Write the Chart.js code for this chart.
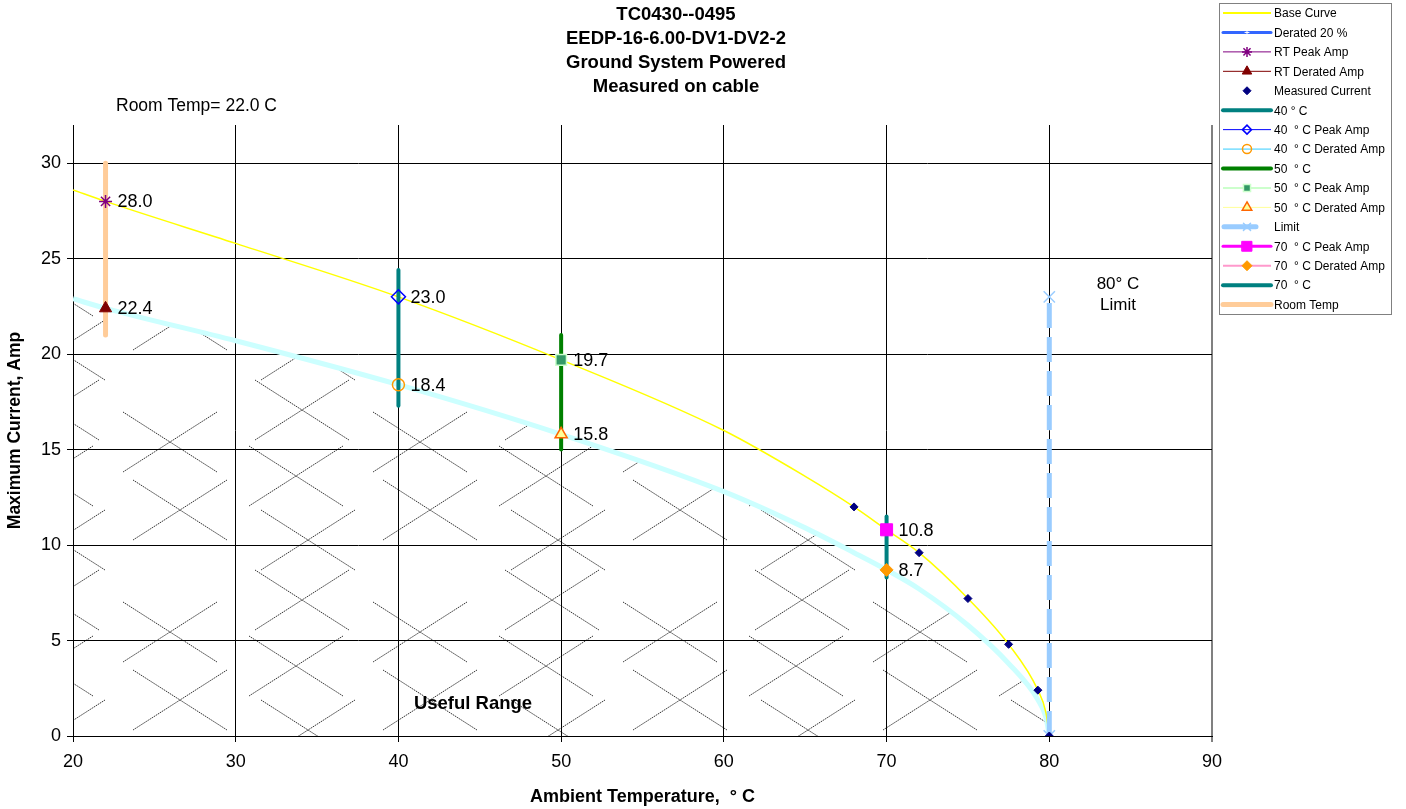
<!DOCTYPE html>
<html lang="en">
<head>
    <meta charset="UTF-8">
    <title>TC0430--0495 Derating</title>
    <script src="https://cdn.jsdelivr.net/npm/chart.js@4.4.0/dist/chart.umd.min.js"></script>
    <style>
        body { margin: 0; background: #ffffff; }
        #wrap { position: relative; width: 1406px; height: 809px; }
    </style>
</head>
<body>
<div id="wrap"><canvas id="deratingChart"></canvas></div>
<script>
    // Values
    const titleLines = ['TC0430--0495', 'EEDP-16-6.00-DV1-DV2-2', 'Ground System Powered', 'Measured on cable'];

    const curveTemps   = [20, 22, 30, 40, 50, 60, 65, 68, 70, 72, 75, 77.5, 79.3, 79.8, 80];
    const baseAmps     = [28.6, 28.0, 25.8, 23.0, 19.7, 16.0, 13.6, 12.0, 10.8, 9.6, 7.2, 4.8, 2.4, 1.2, 0];
    const deratedAmps  = [22.9, 22.4, 20.7, 18.4, 15.8, 12.8, 10.9, 9.6, 8.7, 7.7, 5.8, 3.8, 1.9, 0.95, 0];

    const measuredTemps = [68, 72, 75, 77.5, 79.3, 80];
    const measuredAmps  = [12.0, 9.6, 7.2, 4.8, 2.4, 0];

    const testTemps       = [22, 40, 50, 70];
    const peakAmps        = [28.0, 23.0, 19.7, 10.8];
    const testDeratedAmps = [22.4, 18.4, 15.8, 8.7];

    // vertical range bars: Room Temp, 40, 50, 70
    const barLow  = [21.0, 17.3, 15.0, 8.3];
    const barHigh = [30.0, 24.4, 21.0, 11.5];

    const limitTemp = 80;
    const limitAmps = [0, 23];

    const xTicks = [20, 30, 40, 50, 60, 70, 80, 90];
    const yTicks = [0, 5, 10, 15, 20, 25, 30];

    const FONT = '"Liberation Sans", Arial, sans-serif';

    const pts = (xs, ys) => xs.map((x, i) => ({ x: x, y: ys[i] }));
    const one = i => [{ x: testTemps[i], y: peakAmps[i] }];
    const oneD = i => [{ x: testTemps[i], y: testDeratedAmps[i] }];
    const bar = i => [{ x: testTemps[i], y: barLow[i] }, { x: testTemps[i], y: barHigh[i] }];

    // hatch fill for the useful range
    function makeHatch() {
        const W = 250, H = 190;
        const c = document.createElement('canvas');
        c.width = W; c.height = H;
        const g = c.getContext('2d');
        g.strokeStyle = '#000000';
        g.lineWidth = 0.8;
        g.setLineDash([1.5, 0.8]);
        const crosses = [[52, 30], [46, 96], [58, 160], [170, 62], [180, 130]];
        const hw = 47, hh = 30;
        crosses.forEach(([cx, cy]) => {
            for (let dx = -W; dx <= W; dx += W) {
                for (let dy = -H; dy <= H; dy += H) {
                    g.beginPath();
                    g.moveTo(cx + dx - hw, cy + dy - hh);
                    g.lineTo(cx + dx + hw, cy + dy + hh);
                    g.moveTo(cx + dx + hw, cy + dy - hh);
                    g.lineTo(cx + dx - hw, cy + dy + hh);
                    g.stroke();
                }
            }
        });
        return g.createPattern(c, 'repeat');
    }

    const lineBar = (label, data, color, width) => ({
        label: label, data: data, showLine: true, borderColor: color, borderWidth: width,
        borderCapStyle: 'round', pointRadius: 0, order: 5,
        legend: { color: color, width: width }
    });

    const marker = (label, data, style, radius, border, fill, bw, legendLine, legendRadius) => ({
        label: label, data: data, showLine: false, pointStyle: style, pointRadius: radius,
        pointBorderColor: border, pointBackgroundColor: fill, pointBorderWidth: bw,
        showValue: true, order: 0,
        legend: { color: legendLine, width: 1, marker: true, radius: legendRadius }
    });

    const datasets = [
        {
            label: 'Base Curve', data: pts(curveTemps, baseAmps), showLine: true,
            borderColor: '#FFFF00', borderWidth: 1.5, pointRadius: 0,
            cubicInterpolationMode: 'monotone', order: 8,
            legend: { color: '#FFFF00', width: 2 }
        },
        {
            label: 'Derated 20 %', data: pts(curveTemps, deratedAmps), showLine: true,
            borderColor: '#CCFFFF', borderWidth: 5, pointRadius: 0,
            cubicInterpolationMode: 'monotone', fill: 'origin', backgroundColor: makeHatch(), order: 10,
            legend: { color: '#3366FF', width: 3, plus: true }
        },
        marker('RT Peak Amp', one(0), 'star', 6.5, '#800080', '#800080', 1.5, '#800080', 5),
        marker('RT Derated Amp', oneD(0), 'triangle', 7, '#800000', '#800000', 1, '#800000', 5.5),
        {
            label: 'Measured Current', data: pts(measuredTemps, measuredAmps), showLine: false,
            pointStyle: 'rectRot', pointRadius: 4, pointBackgroundColor: '#000080',
            pointBorderColor: '#000080', pointBorderWidth: 1, order: 1,
            legend: { color: null, width: 0, marker: true, radius: 4 }
        },
        lineBar('40 ° C', bar(1), '#008080', 4),
        marker('40  ° C Peak Amp', one(1), 'rectRot', 7, '#0000FF', 'rgba(0,0,0,0)', 1.5, '#0000FF', 4.5),
        marker('40  ° C Derated Amp', oneD(1), 'circle', 6, '#FF9900', 'rgba(0,0,0,0)', 1.5, '#33CCFF', 4.5),
        lineBar('50  ° C', bar(2), '#008000', 4),
        marker('50  ° C Peak Amp', one(2), 'rect', 7.5, '#CCFFCC', '#339966', 1.5, '#CCFFCC', 5),
        marker('50  ° C Derated Amp', oneD(2), 'triangle', 7, '#FF6600', '#FFFF99', 1.5, '#FFFF99', 5.5),
        {
            label: 'Limit', data: limitAmps.map(y => ({ x: limitTemp, y: y })), showLine: true,
            borderColor: '#99CCFF', borderWidth: 5, borderDash: [25, 9],
            pointStyle: 'crossRot', pointRadius: 8, pointBorderColor: '#99CCFF', pointBorderWidth: 1.5,
            order: 6,
            legend: { color: '#99CCFF', width: 5, short: true, marker: true, radius: 5 }
        },
        marker('70  ° C Peak Amp', one(3), 'rect', 8.5, '#FF00FF', '#FF00FF', 1, '#FF00FF', 7),
        marker('70  ° C Derated Amp', oneD(3), 'rectRot', 6.5, '#FF9900', '#FF9900', 1, '#FF99CC', 5),
        lineBar('70  ° C', bar(3), '#008080', 4),
        lineBar('Room Temp', bar(0), '#FFCC99', 5)
    ];
    // legend line widths that differ from the plot
    datasets[12].legend.width = 3;
    datasets[13].legend.width = 2;
    datasets[9].legend.width = 2;
    datasets[6].legend.width = 1;

    // value labels next to the test points
    const valueLabels = {
        id: 'valueLabels',
        afterDatasetsDraw(chart) {
            const ctx = chart.ctx;
            ctx.save();
            ctx.font = '18px ' + FONT;
            ctx.fillStyle = '#000';
            ctx.textBaseline = 'middle';
            ctx.textAlign = 'left';
            chart.data.datasets.forEach((ds, i) => {
                if (!ds.showValue) return;
                chart.getDatasetMeta(i).data.forEach((el, j) => {
                    ctx.fillText(ds.data[j].y.toFixed(1), el.x + 12, el.y + 1);
                });
            });
            ctx.restore();
        }
    };

    // titles, notes and the boxed legend
    const decorations = {
        id: 'decorations',
        afterDraw(chart) {
            const ctx = chart.ctx;
            ctx.save();
            ctx.fillStyle = '#000';
            ctx.textBaseline = 'middle';

            ctx.textAlign = 'center';
            ctx.font = 'bold 18.5px ' + FONT;
            titleLines.forEach((t, i) => ctx.fillText(t, 676, 15 + i * 24));

            ctx.font = 'bold 18.5px ' + FONT;
            ctx.fillText('Useful Range', 473, 704);

            ctx.font = '17px ' + FONT;
            ctx.fillText('80° C', 1118, 284);
            ctx.fillText('Limit', 1118, 305);
            ctx.textAlign = 'left';
            ctx.font = '17.5px ' + FONT;
            ctx.fillText('Room Temp= 22.0 C', 116, 106);

            // legend
            ctx.strokeStyle = '#808080';
            ctx.lineWidth = 1;
            ctx.setLineDash([]);
            ctx.strokeRect(1219.5, 3.5, 172, 311);
            ctx.font = '12px ' + FONT;
            chart.data.datasets.forEach((ds, i) => {
                const lg = ds.legend;
                const y = 13 + i * 19.44;
                const x0 = lg.short ? 1224 : 1223;
                const x1 = lg.short ? 1256 : 1271;
                if (lg.color && lg.width) {
                    ctx.beginPath();
                    ctx.lineCap = lg.width > 2 ? 'round' : 'butt';
                    ctx.strokeStyle = lg.color;
                    ctx.lineWidth = lg.width;
                    ctx.moveTo(x0, y);
                    ctx.lineTo(x1, y);
                    ctx.stroke();
                }
                if (lg.plus) {
                    ctx.strokeStyle = '#ffffff';
                    ctx.lineWidth = 1;
                    Chart.helpers.drawPoint(ctx, { pointStyle: 'cross', radius: 2, rotation: 0, borderWidth: 1 }, 1247, y);
                }
                if (lg.marker) {
                    ctx.strokeStyle = ds.pointBorderColor;
                    ctx.fillStyle = ds.pointBackgroundColor || 'rgba(0,0,0,0)';
                    ctx.lineWidth = ds.pointBorderWidth;
                    Chart.helpers.drawPoint(ctx, {
                        pointStyle: ds.pointStyle, radius: lg.radius, rotation: 0, borderWidth: ds.pointBorderWidth
                    }, 1247, y);
                }
                ctx.fillStyle = '#000';
                ctx.fillText(ds.label, 1274, y + 1);
            });
            ctx.restore();
        }
    };

    const ctx = document.getElementById('deratingChart').getContext('2d');
    const deratingChart = new Chart(ctx, {
        type: 'scatter',
        data: { datasets: datasets },
        plugins: [valueLabels, decorations],
        options: {
            responsive: true,
            maintainAspectRatio: false,
            animation: false,
            layout: { padding: { top: 125, right: 194, left: 0, bottom: 0 } },
            plugins: {
                legend: { display: false },
                tooltip: { enabled: false }
            },
            scales: {
                x: {
                    type: 'linear',
                    min: 20,
                    max: 90,
                    afterBuildTicks: s => { s.ticks = xTicks.map(v => ({ value: v })); },
                    afterFit: s => { s.height = 73; },
                    grid: {
                        color: c => (c.tick && c.tick.value === 90 ? '#808080' : '#000000'),
                        lineWidth: c => (c.tick && c.tick.value === 90 ? 2 : 1),
                        tickLength: 6
                    },
                    border: { color: '#000000', width: 1 },
                    ticks: { color: '#000', font: { family: FONT, size: 18 }, padding: 9, maxRotation: 0 },
                    title: {
                        display: true,
                        text: 'Ambient Temperature,  ° C',
                        color: '#000',
                        font: { family: FONT, size: 18, weight: 'bold' },
                        padding: { top: 0, bottom: 1 }
                    }
                },
                y: {
                    type: 'linear',
                    min: 0,
                    max: 32,
                    afterBuildTicks: s => { s.ticks = yTicks.map(v => ({ value: v })); },
                    afterFit: s => { s.width = 73; },
                    grid: { color: '#000000', lineWidth: 1, tickLength: 6 },
                    border: { color: '#000000', width: 1 },
                    ticks: { color: '#000', font: { family: FONT, size: 18 }, padding: 6 },
                    title: {
                        display: true,
                        text: 'Maximum Current, Amp',
                        color: '#000',
                        font: { family: FONT, size: 17.5, weight: 'bold' },
                        padding: { top: 5, bottom: 0 }
                    }
                }
            }
        }
    });
</script>
</body>
</html>
